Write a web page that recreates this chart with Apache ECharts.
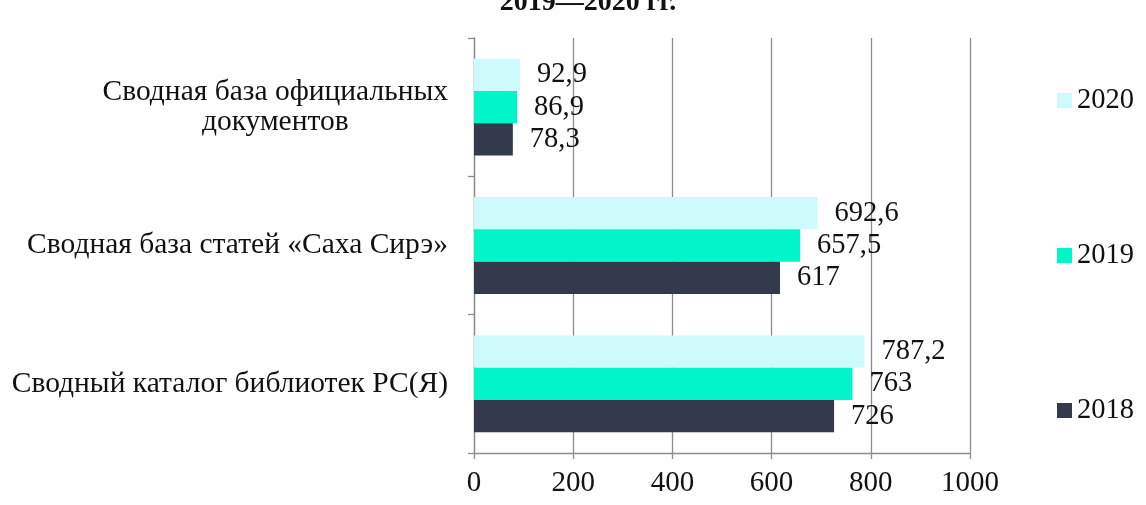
<!DOCTYPE html>
<html>
<head>
<meta charset="utf-8">
<script src="https://cdn.jsdelivr.net/npm/echarts@6/dist/echarts.min.js"></script>
<style>
html,body{margin:0;padding:0;background:#fff;}
#chart{width:1146px;height:505px;}
</style>
</head>
<body>
<div id="chart"></div>
<script>
var titleText = '2019—2020 гг.';
var categories = [
  'Сводный каталог библиотек РС(Я)',
  'Сводная база статей «Саха Сирэ»',
  'Сводная база официальных\nдокументов'
];
var seriesNames = ['2020', '2019', '2018'];
var values2020 = [787.2, 692.6, 92.9];
var values2019 = [763, 657.5, 86.9];
var values2018 = [726, 617, 78.3];
var xTicks = [0, 200, 400, 600, 800, 1000];
var colors = ['#cdfbfb', '#00f6c8', '#323a4b'];

var FONT = '"Liberation Serif", "DejaVu Serif", serif';
var chart = echarts.init(document.getElementById('chart'), null, {renderer: 'canvas'});

function fmt(v) { return String(v).replace('.', ','); }

var dataSets = [values2020, values2019, values2018];
var series = seriesNames.map(function (name, i) {
  return {
    name: name,
    type: 'bar',
    data: dataSets[i],
    barGap: '0%',
    barCategoryGap: '30%',
    itemStyle: {color: colors[i]},
    label: {
      show: true,
      position: 'right',
      distance: 17,
      color: '#111',
      fontFamily: FONT,
      fontSize: 28.5,
      formatter: function (p) { return fmt(p.value); }
    }
  };
});

var legendTops = {'2020': 81, '2019': 236, '2018': 391};
var legends = ['2020', '2019', '2018'].map(function (n) {
  return {
    data: [n],
    left: 1052,
    top: legendTops[n],
    orient: 'vertical',
    icon: 'rect',
    itemWidth: 15,
    itemHeight: 15,
    itemGap: 5,
    selectedMode: false,
    textStyle: {fontFamily: FONT, fontSize: 28.5, color: '#111'}
  };
});

chart.setOption({
  animation: false,
  title: {
    text: titleText,
    left: 583,
    textAlign: 'center',
    top: -16,
    textStyle: {fontFamily: FONT, fontSize: 28, fontWeight: 'bold', color: '#111'}
  },
  legend: legends,
  grid: {left: 474, right: 176, top: 38, bottom: 52, containLabel: false},
  xAxis: {
    type: 'value',
    min: xTicks[0],
    max: xTicks[xTicks.length - 1],
    interval: xTicks[1] - xTicks[0],
    axisLine: {show: true, lineStyle: {color: '#8c8c8c', width: 1.3}},
    axisTick: {show: true, length: 6, lineStyle: {color: '#8c8c8c', width: 1.3}},
    splitLine: {show: true, lineStyle: {color: '#8c8c8c', width: 1.3}},
    axisLabel: {
      margin: 16,
      color: '#111',
      fontFamily: FONT,
      fontSize: 29,
      showMinLabel: true,
      showMaxLabel: true,
      formatter: function (v) { return String(v); }
    }
  },
  yAxis: {
    type: 'category',
    data: categories,
    axisLine: {show: true, lineStyle: {color: '#8c8c8c', width: 1.3}},
    axisTick: {show: true, length: 6, lineStyle: {color: '#8c8c8c', width: 1.3}},
    axisLabel: {
      margin: 26,
      color: '#111',
      fontFamily: FONT,
      fontSize: 29.5,
      lineHeight: 30,
      formatter: function (v) {
        return v.split('\n').map(function (s) { return '{c|' + s + '}'; }).join('\n');
      },
      rich: {
        c: {fontFamily: FONT, fontSize: 29.5, lineHeight: 30, color: '#111', align: 'center'}
      }
    }
  },
  series: series
});
</script>
</body>
</html>
